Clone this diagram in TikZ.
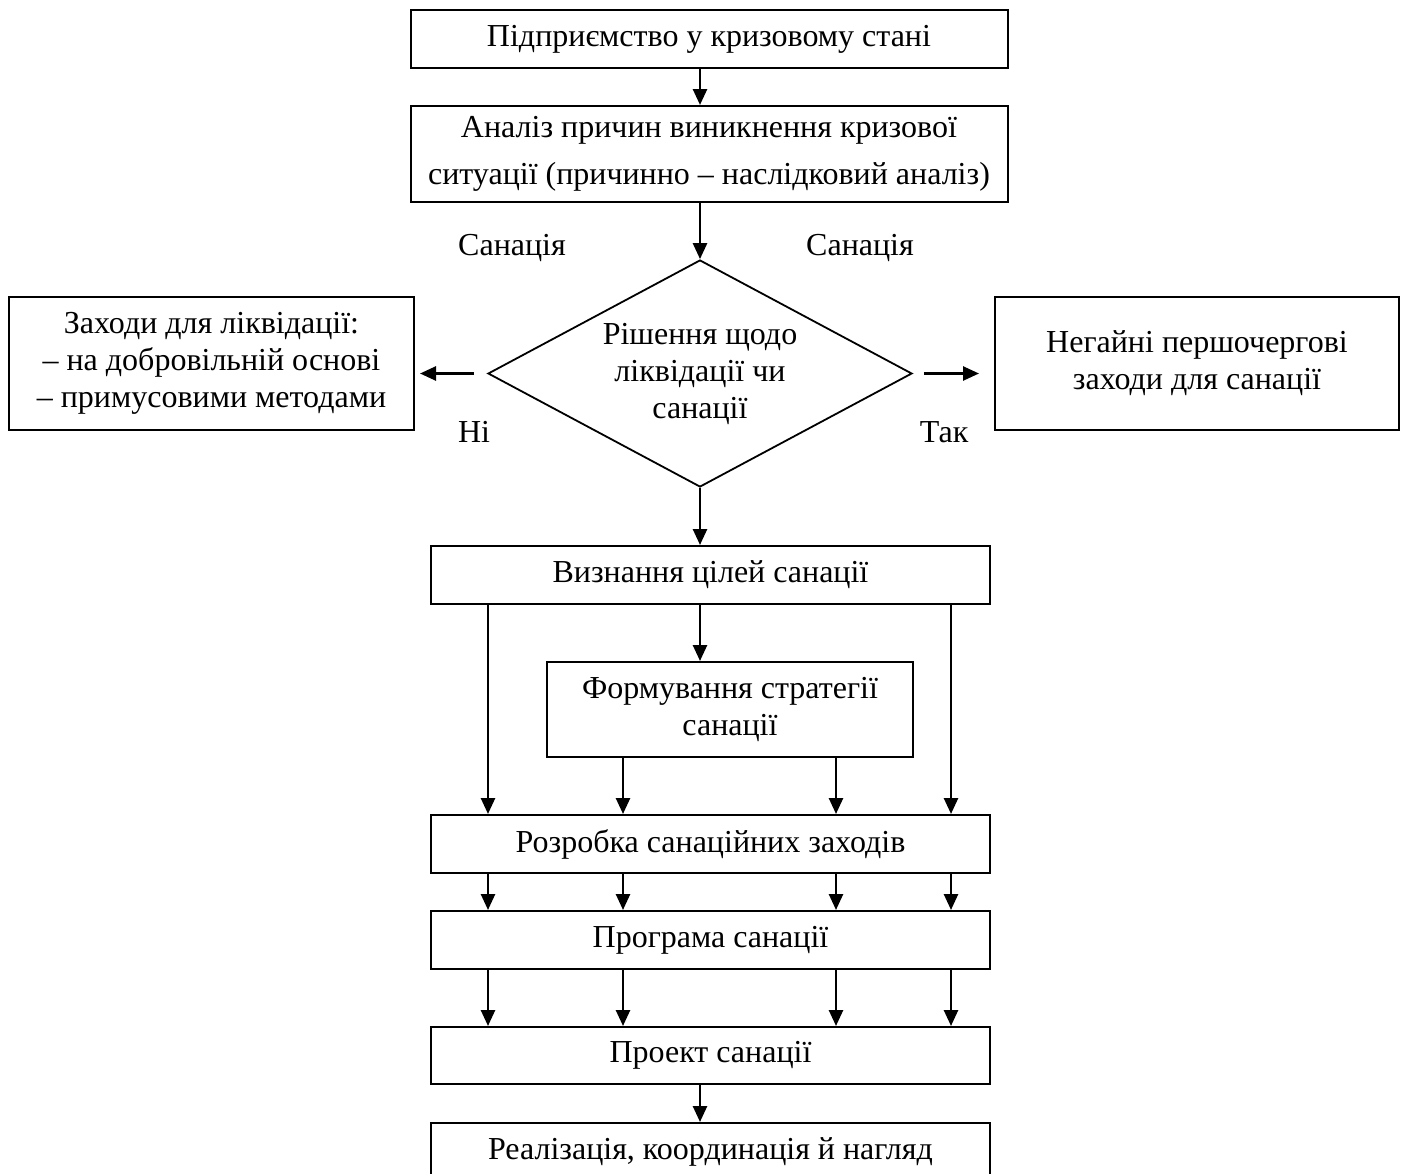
\documentclass[tikz,border=0pt]{standalone}
\usepackage{fontspec}
\setmainfont{Liberation Serif}
\usetikzlibrary{shapes.geometric,arrows.meta,positioning,calc}

\begin{document}
\begin{tikzpicture}[x=0.5pt,y=-0.5pt,font=\fontsize{16}{18.5}\selectfont,
    box/.style={draw,line width=1pt,inner sep=0pt,align=center,minimum width=279.5pt,minimum height=29pt},
    decision/.style={draw,diamond,line width=0.9pt,inner sep=0pt,align=center,aspect=1.87,minimum width=212pt,minimum height=113.5pt},
    arr/.style={-{Triangle[length=8pt,width=7pt]},line width=1.3pt}]
    \useasboundingbox (0,0) rectangle (1403,1173);

    % Top of the chain
    \node[box,minimum width=298.5pt] (crisis) at (709,39) {Підприємство у кризовому стані};
    \node[box,minimum width=298.5pt,minimum height=48pt,font=\fontsize{16}{23.5}\selectfont] (analysis) at (709,154)
        {Аналіз причин виникнення кризової\\ситуації (причинно – наслідковий аналіз)};

    % Decision with both branches
    \node[decision] (decide) at (700,373.5) {Рішення щодо\\ліквідації чи\\санації};
    \node[box,minimum width=202.5pt,minimum height=66.5pt] (liquid) at (211.5,363.5)
        {Заходи для ліквідації:\\– на добровільній основі\\– примусовими методами};
    \node[box,minimum width=202pt,minimum height=66.5pt] (urgent) at (1197,363.5)
        {Негайні першочергові\\заходи для санації};
    \node (sanleft) at (512,248) {Санація};
    \node (sanright) at (860,248) {Санація};
    \node (no) at (474,432) {Ні};
    \node (yes) at (944,432) {Так};

    % Rehabilitation steps
    \node[box] (goals) at (710.5,575) {Визнання цілей санації};
    \node[box,minimum width=183pt,minimum height=47.5pt] (strategy) at (730,709.5) {Формування стратегії\\санації};
    \node[box] (measures) at (710.5,844) {Розробка санаційних заходів};
    \node[box] (program) at (710.5,940) {Програма санації};
    \node[box,minimum height=28.5pt] (project) at (710.5,1055.5) {Проект санації};
    \node[box] (realize) at (710.5,1152) {Реалізація, координація й нагляд};

    % Columns of the parallel arrows
    \coordinate (c1) at (488,0);
    \coordinate (c2) at (623,0);
    \coordinate (c3) at (836,0);
    \coordinate (c4) at (951,0);

    \draw[arr] (crisis.south -| decide.north) -- (analysis.north -| decide.north);
    \draw[arr] (analysis.south -| decide.north) -- (decide.north);
    \draw[arr,shorten <=6.5pt,shorten >=2.5pt] (decide.west) -- (decide.west -| liquid.east);
    \draw[arr,shorten <=5.5pt,shorten >=7.5pt] (decide.east) -- (decide.east -| urgent.west);
    \draw[arr] (decide.south) -- (goals.north -| decide.south);

    \draw[arr] (goals.south -| decide.south) -- (strategy.north -| decide.south);
    \draw[arr] (goals.south -| c1) -- (measures.north -| c1);
    \draw[arr] (goals.south -| c4) -- (measures.north -| c4);
    \draw[arr] (strategy.south -| c2) -- (measures.north -| c2);
    \draw[arr] (strategy.south -| c3) -- (measures.north -| c3);

    \foreach \c in {c1,c2,c3,c4} {
        \draw[arr] (measures.south -| \c) -- (program.north -| \c);
        \draw[arr] (program.south -| \c) -- (project.north -| \c);
    }
    \draw[arr] (project.south -| decide.south) -- (realize.north -| decide.south);
\end{tikzpicture}
\end{document}
